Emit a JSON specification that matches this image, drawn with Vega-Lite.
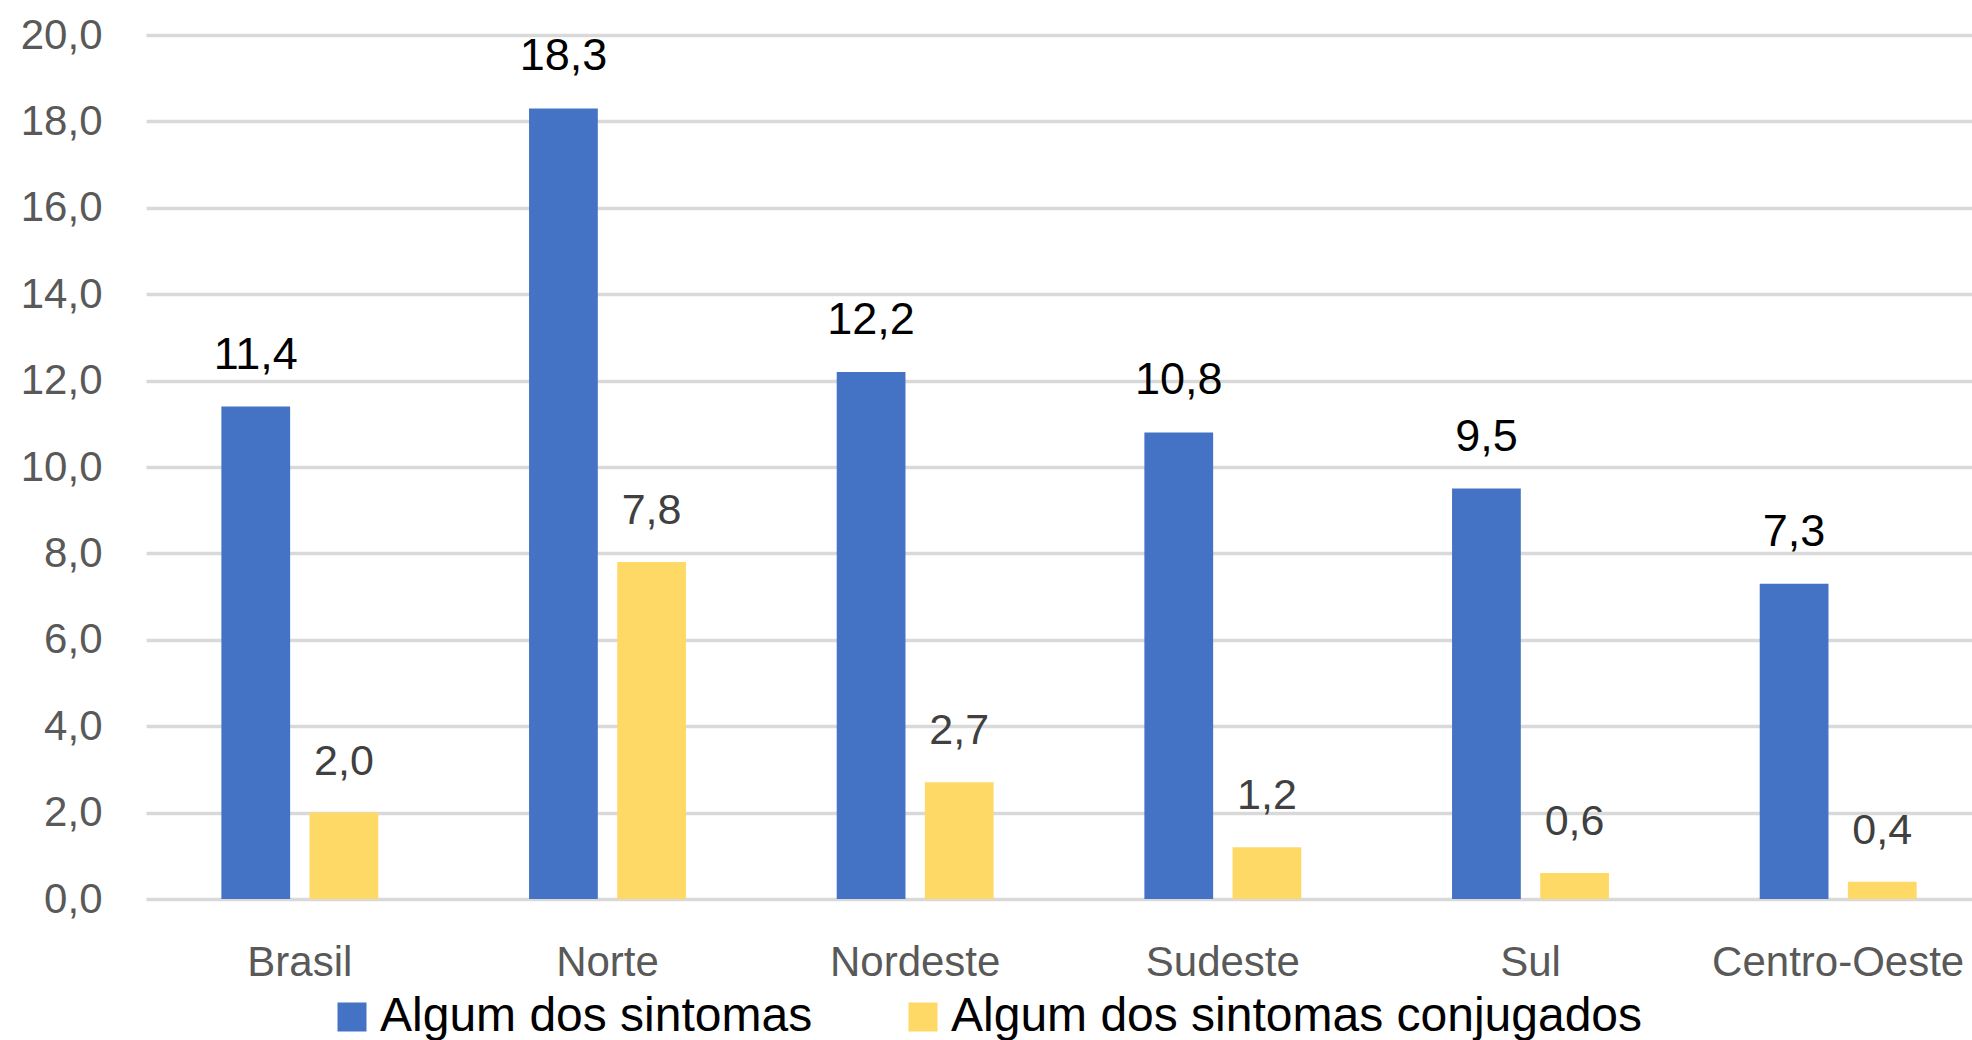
{
  "$schema": "https://vega.github.io/schema/vega-lite/v6.json",
  "width": 1826,
  "height": 864,
  "autosize": {"type": "none"},
  "padding": {"left": 146, "top": 35, "right": 0, "bottom": 141},
  "background": "white",
  "config": {
    "view": {"stroke": null},
    "font": "Liberation Sans",
    "locale": {
      "number": {"decimal": ",", "thousands": ".", "grouping": [3], "currency": ["R$", ""]}
    }
  },
  "data": {
    "values": [
      {"regiao": "Brasil", "serie": "Algum dos sintomas", "valor": 11.4},
      {"regiao": "Brasil", "serie": "Algum dos sintomas conjugados", "valor": 2.0},
      {"regiao": "Norte", "serie": "Algum dos sintomas", "valor": 18.3},
      {"regiao": "Norte", "serie": "Algum dos sintomas conjugados", "valor": 7.8},
      {"regiao": "Nordeste", "serie": "Algum dos sintomas", "valor": 12.2},
      {"regiao": "Nordeste", "serie": "Algum dos sintomas conjugados", "valor": 2.7},
      {"regiao": "Sudeste", "serie": "Algum dos sintomas", "valor": 10.8},
      {"regiao": "Sudeste", "serie": "Algum dos sintomas conjugados", "valor": 1.2},
      {"regiao": "Sul", "serie": "Algum dos sintomas", "valor": 9.5},
      {"regiao": "Sul", "serie": "Algum dos sintomas conjugados", "valor": 0.6},
      {"regiao": "Centro-Oeste", "serie": "Algum dos sintomas", "valor": 7.3},
      {"regiao": "Centro-Oeste", "serie": "Algum dos sintomas conjugados", "valor": 0.4}
    ]
  },
  "encoding": {
    "x": {
      "field": "regiao",
      "type": "nominal",
      "sort": ["Brasil", "Norte", "Nordeste", "Sudeste", "Sul", "Centro-Oeste"],
      "scale": {"range": [0, 1846], "paddingInner": 0.49, "paddingOuter": 0.245},
      "axis": {
        "title": null,
        "labelAngle": 0,
        "domain": false,
        "ticks": false,
        "labelFontSize": 42,
        "labelColor": "#595959",
        "labelBaseline": "alphabetic",
        "labelPadding": 76,
        "labelLimit": 0
      }
    },
    "xOffset": {
      "field": "serie",
      "type": "nominal",
      "sort": ["Algum dos sintomas", "Algum dos sintomas conjugados"],
      "scale": {"paddingInner": 0.22, "paddingOuter": 0}
    },
    "y": {
      "field": "valor",
      "type": "quantitative",
      "scale": {"domain": [0, 20], "nice": false},
      "axis": {
        "title": null,
        "values": [0, 2, 4, 6, 8, 10, 12, 14, 16, 18, 20],
        "format": ".1f",
        "domain": false,
        "ticks": false,
        "grid": true,
        "gridColor": "#D9D9D9",
        "gridWidth": 3.5,
        "labelFontSize": 42,
        "labelColor": "#595959",
        "labelPadding": 44
      }
    }
  },
  "layer": [
    {
      "mark": {"type": "bar"},
      "encoding": {
        "color": {
          "field": "serie",
          "type": "nominal",
          "sort": ["Algum dos sintomas", "Algum dos sintomas conjugados"],
          "scale": {"range": ["#4472C4", "#FFD966"]},
          "legend": {
            "title": null,
            "orient": "none",
            "legendX": 182,
            "legendY": 958,
            "direction": "horizontal",
            "symbolType": "square",
            "symbolSize": 841,
            "symbolStrokeWidth": 0,
            "labelFontSize": 48,
            "labelColor": "#000000",
            "labelOffset": 4,
            "columnPadding": 86,
            "padding": 0,
            "labelLimit": 0
          }
        }
      }
    },
    {
      "mark": {"type": "text", "baseline": "alphabetic", "dy": -38, "align": "center"},
      "encoding": {
        "text": {"field": "valor", "type": "quantitative", "format": ".1f"},
        "color": {
          "condition": {"test": "datum.serie === 'Algum dos sintomas'", "value": "#000000"},
          "value": "#404040"
        },
        "size": {
          "condition": {"test": "datum.serie === 'Algum dos sintomas'", "value": 45},
          "value": 43
        }
      }
    }
  ]
}
